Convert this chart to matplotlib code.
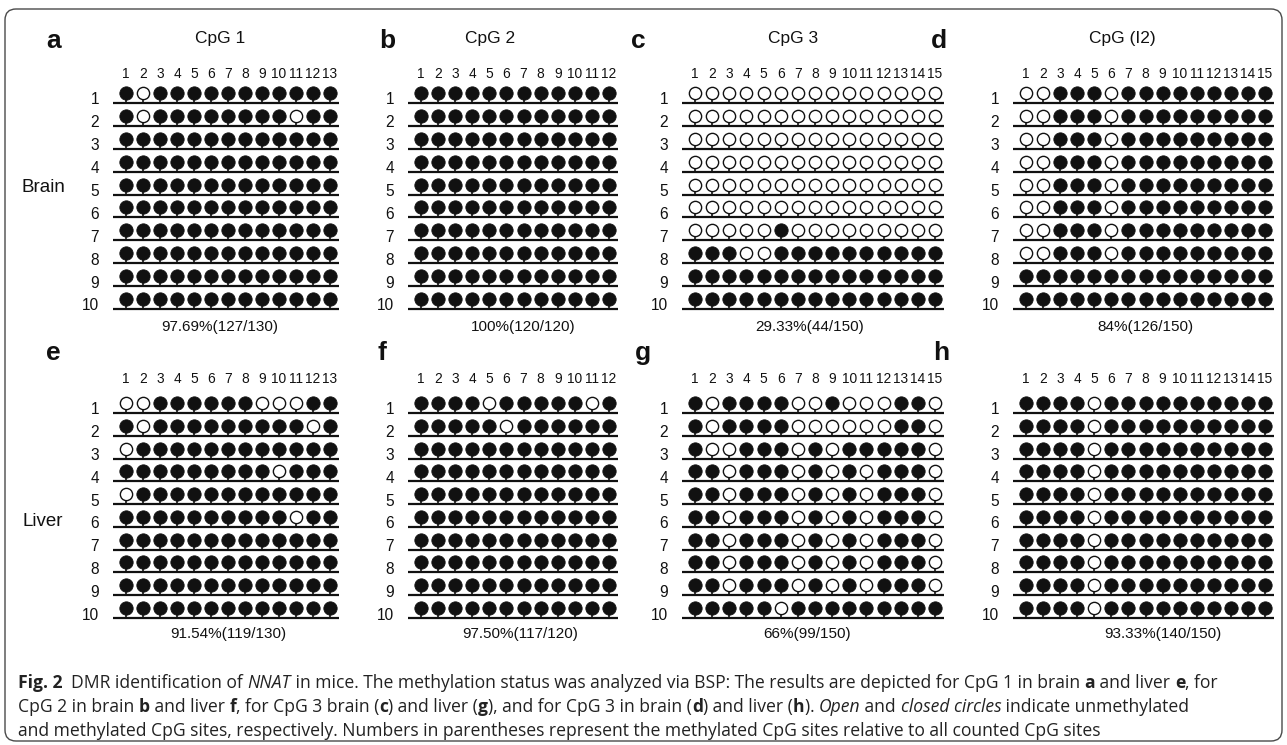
import numpy as np
import matplotlib
matplotlib.use("Agg")
import matplotlib.pyplot as plt
from matplotlib.patches import FancyBboxPatch

# ---------------- data ----------------
panel_letters = ["a", "b", "c", "d", "e", "f", "g", "h"]
region_titles = ["CpG 1", "CpG 2", "CpG 3", "CpG (I2)"]
tissues = ["Brain", "Liver"]
clone_labels = [1, 2, 3, 4, 5, 6, 7, 8, 9, 10]

# 1 = methylated (closed circle), 0 = unmethylated (open circle)
brain_cpg1 = [
    [1, 0, 1, 1, 1, 1, 1, 1, 1, 1, 1, 1, 1],
    [1, 0, 1, 1, 1, 1, 1, 1, 1, 1, 0, 1, 1],
    [1, 1, 1, 1, 1, 1, 1, 1, 1, 1, 1, 1, 1],
    [1, 1, 1, 1, 1, 1, 1, 1, 1, 1, 1, 1, 1],
    [1, 1, 1, 1, 1, 1, 1, 1, 1, 1, 1, 1, 1],
    [1, 1, 1, 1, 1, 1, 1, 1, 1, 1, 1, 1, 1],
    [1, 1, 1, 1, 1, 1, 1, 1, 1, 1, 1, 1, 1],
    [1, 1, 1, 1, 1, 1, 1, 1, 1, 1, 1, 1, 1],
    [1, 1, 1, 1, 1, 1, 1, 1, 1, 1, 1, 1, 1],
    [1, 1, 1, 1, 1, 1, 1, 1, 1, 1, 1, 1, 1],
]
brain_cpg2 = [
    [1, 1, 1, 1, 1, 1, 1, 1, 1, 1, 1, 1],
    [1, 1, 1, 1, 1, 1, 1, 1, 1, 1, 1, 1],
    [1, 1, 1, 1, 1, 1, 1, 1, 1, 1, 1, 1],
    [1, 1, 1, 1, 1, 1, 1, 1, 1, 1, 1, 1],
    [1, 1, 1, 1, 1, 1, 1, 1, 1, 1, 1, 1],
    [1, 1, 1, 1, 1, 1, 1, 1, 1, 1, 1, 1],
    [1, 1, 1, 1, 1, 1, 1, 1, 1, 1, 1, 1],
    [1, 1, 1, 1, 1, 1, 1, 1, 1, 1, 1, 1],
    [1, 1, 1, 1, 1, 1, 1, 1, 1, 1, 1, 1],
    [1, 1, 1, 1, 1, 1, 1, 1, 1, 1, 1, 1],
]
brain_cpg3 = [
    [0, 0, 0, 0, 0, 0, 0, 0, 0, 0, 0, 0, 0, 0, 0],
    [0, 0, 0, 0, 0, 0, 0, 0, 0, 0, 0, 0, 0, 0, 0],
    [0, 0, 0, 0, 0, 0, 0, 0, 0, 0, 0, 0, 0, 0, 0],
    [0, 0, 0, 0, 0, 0, 0, 0, 0, 0, 0, 0, 0, 0, 0],
    [0, 0, 0, 0, 0, 0, 0, 0, 0, 0, 0, 0, 0, 0, 0],
    [0, 0, 0, 0, 0, 0, 0, 0, 0, 0, 0, 0, 0, 0, 0],
    [0, 0, 0, 0, 0, 1, 0, 0, 0, 0, 0, 0, 0, 0, 0],
    [1, 1, 1, 0, 0, 1, 1, 1, 1, 1, 1, 1, 1, 1, 1],
    [1, 1, 1, 1, 1, 1, 1, 1, 1, 1, 1, 1, 1, 1, 1],
    [1, 1, 1, 1, 1, 1, 1, 1, 1, 1, 1, 1, 1, 1, 1],
]
brain_cpgI2 = [
    [0, 0, 1, 1, 1, 0, 1, 1, 1, 1, 1, 1, 1, 1, 1],
    [0, 0, 1, 1, 1, 0, 1, 1, 1, 1, 1, 1, 1, 1, 1],
    [0, 0, 1, 1, 1, 0, 1, 1, 1, 1, 1, 1, 1, 1, 1],
    [0, 0, 1, 1, 1, 0, 1, 1, 1, 1, 1, 1, 1, 1, 1],
    [0, 0, 1, 1, 1, 0, 1, 1, 1, 1, 1, 1, 1, 1, 1],
    [0, 0, 1, 1, 1, 0, 1, 1, 1, 1, 1, 1, 1, 1, 1],
    [0, 0, 1, 1, 1, 0, 1, 1, 1, 1, 1, 1, 1, 1, 1],
    [0, 0, 1, 1, 1, 0, 1, 1, 1, 1, 1, 1, 1, 1, 1],
    [1, 1, 1, 1, 1, 1, 1, 1, 1, 1, 1, 1, 1, 1, 1],
    [1, 1, 1, 1, 1, 1, 1, 1, 1, 1, 1, 1, 1, 1, 1],
]
liver_cpg1 = [
    [0, 0, 1, 1, 1, 1, 1, 1, 0, 0, 0, 1, 1],
    [1, 0, 1, 1, 1, 1, 1, 1, 1, 1, 1, 0, 1],
    [0, 1, 1, 1, 1, 1, 1, 1, 1, 1, 1, 1, 1],
    [1, 1, 1, 1, 1, 1, 1, 1, 1, 0, 1, 1, 1],
    [0, 1, 1, 1, 1, 1, 1, 1, 1, 1, 1, 1, 1],
    [1, 1, 1, 1, 1, 1, 1, 1, 1, 1, 0, 1, 1],
    [1, 1, 1, 1, 1, 1, 1, 1, 1, 1, 1, 1, 1],
    [1, 1, 1, 1, 1, 1, 1, 1, 1, 1, 1, 1, 1],
    [1, 1, 1, 1, 1, 1, 1, 1, 1, 1, 1, 1, 1],
    [1, 1, 1, 1, 1, 1, 1, 1, 1, 1, 1, 1, 1],
]
liver_cpg2 = [
    [1, 1, 1, 1, 0, 1, 1, 1, 1, 1, 0, 1],
    [1, 1, 1, 1, 1, 0, 1, 1, 1, 1, 1, 1],
    [1, 1, 1, 1, 1, 1, 1, 1, 1, 1, 1, 1],
    [1, 1, 1, 1, 1, 1, 1, 1, 1, 1, 1, 1],
    [1, 1, 1, 1, 1, 1, 1, 1, 1, 1, 1, 1],
    [1, 1, 1, 1, 1, 1, 1, 1, 1, 1, 1, 1],
    [1, 1, 1, 1, 1, 1, 1, 1, 1, 1, 1, 1],
    [1, 1, 1, 1, 1, 1, 1, 1, 1, 1, 1, 1],
    [1, 1, 1, 1, 1, 1, 1, 1, 1, 1, 1, 1],
    [1, 1, 1, 1, 1, 1, 1, 1, 1, 1, 1, 1],
]
liver_cpg3 = [
    [1, 0, 1, 1, 1, 1, 0, 0, 1, 0, 0, 0, 1, 1, 0],
    [1, 0, 1, 1, 1, 1, 0, 0, 0, 0, 0, 0, 1, 1, 0],
    [1, 0, 0, 1, 1, 1, 0, 1, 0, 1, 1, 1, 1, 1, 0],
    [1, 1, 0, 1, 1, 1, 0, 1, 0, 1, 0, 1, 1, 1, 0],
    [1, 1, 0, 1, 1, 1, 0, 1, 0, 1, 0, 1, 1, 1, 0],
    [1, 1, 0, 1, 1, 1, 0, 1, 0, 1, 0, 1, 1, 1, 0],
    [1, 1, 0, 1, 1, 1, 0, 1, 0, 1, 0, 1, 1, 1, 0],
    [1, 1, 0, 1, 1, 1, 0, 1, 0, 1, 0, 1, 1, 1, 0],
    [1, 1, 0, 1, 1, 1, 0, 1, 0, 1, 0, 1, 1, 1, 0],
    [1, 1, 1, 1, 1, 0, 1, 1, 1, 1, 1, 1, 1, 1, 1],
]
liver_cpgI2 = [
    [1, 1, 1, 1, 0, 1, 1, 1, 1, 1, 1, 1, 1, 1, 1],
    [1, 1, 1, 1, 0, 1, 1, 1, 1, 1, 1, 1, 1, 1, 1],
    [1, 1, 1, 1, 0, 1, 1, 1, 1, 1, 1, 1, 1, 1, 1],
    [1, 1, 1, 1, 0, 1, 1, 1, 1, 1, 1, 1, 1, 1, 1],
    [1, 1, 1, 1, 0, 1, 1, 1, 1, 1, 1, 1, 1, 1, 1],
    [1, 1, 1, 1, 0, 1, 1, 1, 1, 1, 1, 1, 1, 1, 1],
    [1, 1, 1, 1, 0, 1, 1, 1, 1, 1, 1, 1, 1, 1, 1],
    [1, 1, 1, 1, 0, 1, 1, 1, 1, 1, 1, 1, 1, 1, 1],
    [1, 1, 1, 1, 0, 1, 1, 1, 1, 1, 1, 1, 1, 1, 1],
    [1, 1, 1, 1, 0, 1, 1, 1, 1, 1, 1, 1, 1, 1, 1],
]
percent_labels = [
    "97.69%(127/130)", "100%(120/120)", "29.33%(44/150)", "84%(126/150)",
    "91.54%(119/130)", "97.50%(117/120)", "66%(99/150)", "93.33%(140/150)",
]
panels = [brain_cpg1, brain_cpg2, brain_cpg3, brain_cpgI2,
          liver_cpg1, liver_cpg2, liver_cpg3, liver_cpgI2]

# ---------------- layout (pixels) ----------------
W, H = 1287, 745
col_first_px = [126, 421, 695, 1026]
col_last_px = [330, 609, 935, 1265]
row_first_px = [103, 413]
row_last_px = [309, 618]
header_gap_px = [29, 34]
pct_x_px = [[220, 523, 810, 1145], [228, 520, 807, 1163]]
pct_gap_px = [18, 16]
letter_x_px = [[46, 379, 631, 931], [46, 377, 635, 933]]
letter_base_px = [48, 360]
title_x_px = [220, 490, 793, 1122]
title_y_px = 39
tissue_xy_px = [(43, 187), (43, 521)]

FONT = ["Liberation Sans", "DejaVu Sans"]
plt.rcParams["font.family"] = FONT

fig = plt.figure(figsize=(W / 100, H / 100), dpi=100)

bg = fig.add_axes([0, 0, 1, 1])
bg.set_xlim(0, W)
bg.set_ylim(H, 0)
bg.axis("off")

frame = FancyBboxPatch((5, 9), 1277, 732,
                       boxstyle="round,pad=0,rounding_size=11",
                       fc="none", ec="#4a4a4a", lw=1.0)
bg.add_patch(frame)

ink = "#111111"

for k, data in enumerate(panels):
    gi, gj = divmod(k, 4)
    arr = np.array(data)
    n = arr.shape[1]
    x1, xn = col_first_px[gj], col_last_px[gj]
    s = (xn - x1) / (n - 1)
    y1, y10 = row_first_px[gi], row_last_px[gi]
    dy = (y10 - y1) / 9.0
    left, right = x1 - 3 * s, xn + 1.5 * s
    top, bottom = y1 - 3 * dy, y10 + 1.5 * dy
    ax = fig.add_axes([left / W, 1 - bottom / H, (right - left) / W, (bottom - top) / H])
    ax.set_xlim(-2, n + 1.5)
    ax.set_ylim(11.5, -2)
    ax.axis("off")

    rows = np.array(clone_labels)
    cols = np.arange(1, n + 1)
    ax.hlines(rows, 1 - 13 / s, n + 9 / s, color=ink, lw=1.6)
    X, Y = np.meshgrid(cols, rows)
    off = 10 / dy
    ax.vlines(X.ravel(), Y.ravel() - off, Y.ravel(), color=ink, lw=1.2)
    m = arr.astype(bool)
    ax.scatter(X[m], Y[m] - off, s=92, c=ink, edgecolors=ink, linewidths=0.6, zorder=3)
    ax.scatter(X[~m], Y[~m] - off, s=78, c="white", edgecolors=ink, linewidths=1.0, zorder=3)

    for c in cols:
        ax.text(c, 1 - header_gap_px[gi] / dy, str(c), ha="center", va="center",
                fontsize=9.9, color=ink)
    for r in rows:
        ax.text(1 - 27 / s, r - 3 / dy, str(r), ha="right", va="center",
                fontsize=11.2, color=ink)
    px = pct_x_px[gi][gj]
    ax.text(1 + (px - x1) / s, 10 + pct_gap_px[gi] / dy, percent_labels[k],
            ha="center", va="center", fontsize=11, color=ink)

    bg.text(letter_x_px[gi][gj], letter_base_px[gi], panel_letters[k], ha="left",
            va="baseline", fontsize=19, fontweight="bold", color=ink)

for j, t in enumerate(region_titles):
    bg.text(title_x_px[j], title_y_px, t, ha="center", va="center", fontsize=12.5, color=ink)

for t, (tx, ty) in zip(tissues, tissue_xy_px):
    bg.text(tx, ty, t, ha="center", va="center", fontsize=13.5, color=ink)

# ---------------- caption ----------------
cap_font = ["Open Sans", "DejaVu Sans"]
caption = [
    [("Fig. 2", "bold", "normal"), ("  DMR identification of ", "normal", "normal"),
     ("NNAT", "normal", "italic"),
     (" in mice. The methylation status was analyzed via BSP: The results are depicted for CpG 1 in brain ", "normal", "normal"),
     ("a", "bold", "normal"), (" and liver ", "normal", "normal"), ("e", "bold", "normal"),
     (", for", "normal", "normal")],
    [("CpG 2 in brain ", "normal", "normal"), ("b", "bold", "normal"),
     (" and liver ", "normal", "normal"), ("f", "bold", "normal"),
     (", for CpG 3 brain (", "normal", "normal"), ("c", "bold", "normal"),
     (") and liver (", "normal", "normal"), ("g", "bold", "normal"),
     ("), and for CpG 3 in brain (", "normal", "normal"), ("d", "bold", "normal"),
     (") and liver (", "normal", "normal"), ("h", "bold", "normal"),
     ("). ", "normal", "normal"), ("Open", "normal", "italic"),
     (" and ", "normal", "normal"), ("closed circles", "normal", "italic"),
     (" indicate unmethylated", "normal", "normal")],
    [("and methylated CpG sites, respectively. Numbers in parentheses represent the methylated CpG sites relative to all counted CpG sites", "normal", "normal")],
]
cap_y_px = [683, 707, 731]
cap_x0 = 18
cap_line1_width = 1204

renderer = fig.canvas.get_renderer()


def piece_width(txt, size, weight, style):
    a = bg.text(0, 0, "|" + txt + "|", fontsize=size, fontweight=weight,
                fontstyle=style, family=cap_font)
    b = bg.text(0, 0, "||", fontsize=size, fontweight=weight,
                fontstyle=style, family=cap_font)
    w = a.get_window_extent(renderer).width - b.get_window_extent(renderer).width
    a.remove()
    b.remove()
    return w


w_ref = sum(piece_width(t, 10, wt, st) for t, wt, st in caption[0])
cap_size = 10 * cap_line1_width / w_ref

for line, y in zip(caption, cap_y_px):
    x = cap_x0
    for t, wt, st in line:
        bg.text(x, y, t, ha="left", va="center", fontsize=cap_size, fontweight=wt,
                fontstyle=st, family=cap_font, color="#222222")
        x += piece_width(t, cap_size, wt, st)

fig.savefig("out.png", dpi=100)
